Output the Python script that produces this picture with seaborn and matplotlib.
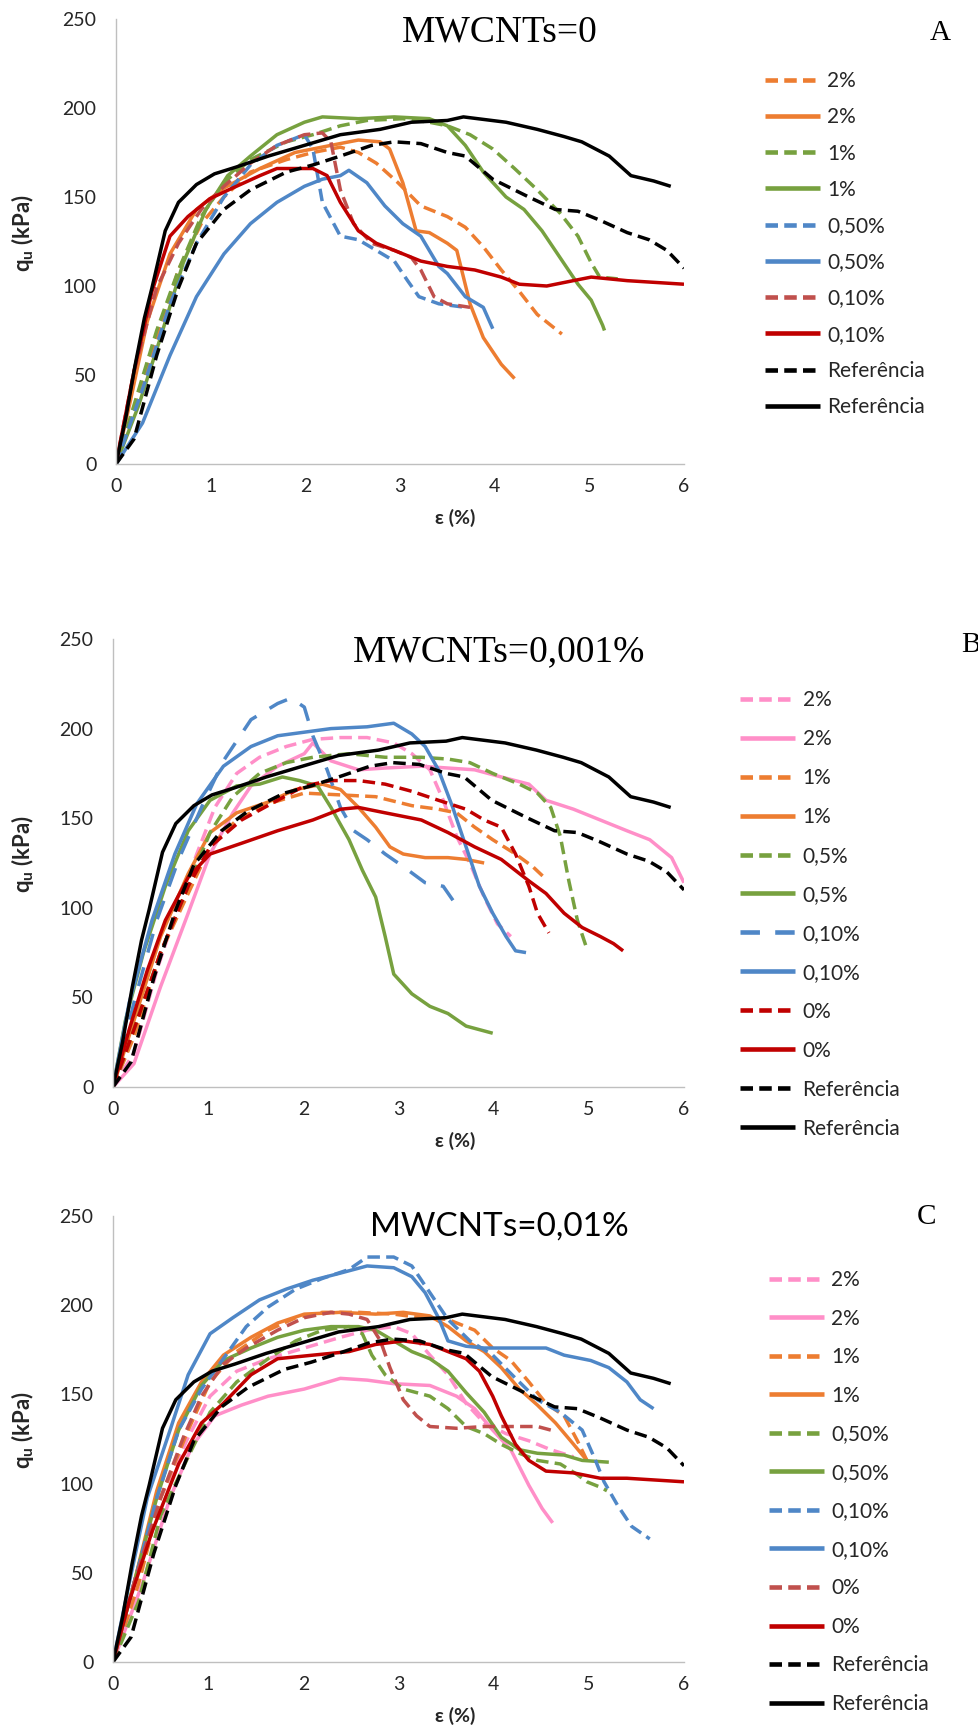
import matplotlib
matplotlib.use("Agg")
import matplotlib.pyplot as plt
import seaborn as sns
import numpy as np

sns.set_theme(style="white")
plt.rcParams['font.family'] = ['Lato', 'DejaVu Sans']
plt.rcParams['mathtext.fontset'] = 'custom'
plt.rcParams['mathtext.rm'] = 'Lato'
plt.rcParams['mathtext.bf'] = 'Lato:bold'
plt.rcParams['lines.scale_dashes'] = False

# ---------------- data ----------------
# Reference curves (same in all three panels)
ref_solid_x = [0, 0.1, 0.2, 0.3, 0.38, 0.52, 0.66, 0.85, 1.04, 1.28, 1.61, 1.99, 2.37, 2.79, 3.12, 3.5, 3.67, 4.12, 4.45, 4.73, 4.92, 5.21, 5.44, 5.68, 5.86]
ref_solid_y = [0, 25, 55, 82, 99, 131, 147, 157, 163, 167, 173, 179, 185, 188, 192, 193, 195, 192, 188, 184, 181, 173, 162, 159, 156]
ref_dash_x = [0, 0.19, 0.43, 0.66, 0.85, 1.14, 1.42, 1.8, 2.08, 2.37, 2.7, 2.94, 3.22, 3.5, 3.69, 3.98, 4.36, 4.64, 4.88, 5.11, 5.4, 5.63, 5.82, 6.0]
ref_dash_y = [0, 14, 61, 99, 124, 143, 154, 164, 168, 173, 179, 181, 180, 175, 173, 160, 150, 143, 142, 137, 130, 126, 120, 110]

# Panel A  (MWCNTs=0)
a_2d_x = [0, 0.19, 0.43, 0.66, 0.9, 1.14, 1.42, 1.8, 2.08, 2.37, 2.56, 2.75, 2.98, 3.22, 3.5, 3.69, 3.88, 4.07, 4.26, 4.45, 4.71]
a_2d_y = [0, 28, 71, 109, 135, 150, 164, 171, 175, 178, 175, 169, 158, 145, 139, 133, 122, 109, 97, 84, 73]
a_2s_x = [0, 0.15, 0.33, 0.57, 0.85, 1.14, 1.52, 1.89, 2.27, 2.56, 2.79, 2.89, 3.03, 3.17, 3.31, 3.5, 3.6, 3.74, 3.88, 4.07, 4.21]
a_2s_y = [0, 35, 80, 118, 143, 155, 166, 175, 179, 182, 181, 177, 158, 131, 130, 124, 120, 90, 71, 56, 48]
a_1d_x = [0, 0.19, 0.43, 0.66, 0.9, 1.14, 1.42, 1.8, 2.08, 2.37, 2.65, 3.03, 3.31, 3.5, 3.74, 3.98, 4.21, 4.45, 4.69, 4.88, 5.02, 5.11, 5.3]
a_1d_y = [0, 33, 75, 109, 139, 158, 171, 181, 185, 190, 193, 194, 192, 190, 185, 177, 166, 154, 141, 128, 113, 105, 104]
a_1s_x = [0, 0.24, 0.47, 0.71, 0.95, 1.18, 1.42, 1.7, 1.99, 2.18, 2.56, 2.94, 3.31, 3.5, 3.69, 3.88, 4.12, 4.31, 4.5, 4.69, 4.88, 5.02, 5.14, 5.16]
a_1s_y = [0, 33, 71, 113, 143, 162, 173, 185, 192, 195, 194, 195, 194, 190, 179, 164, 150, 143, 131, 116, 101, 92, 78, 75]
a_05d_x = [0, 0.28, 0.57, 0.85, 1.14, 1.42, 1.7, 1.99, 2.08, 2.18, 2.37, 2.56, 2.75, 2.94, 3.08, 3.2, 3.41, 3.69]
a_05d_y = [0, 42, 90, 124, 150, 168, 179, 185, 177, 147, 128, 126, 120, 114, 103, 94, 90, 88]
a_05s_x = [0, 0.28, 0.57, 0.85, 1.14, 1.42, 1.7, 1.99, 2.18, 2.37, 2.46, 2.65, 2.84, 3.03, 3.22, 3.41, 3.5, 3.69, 3.88, 3.98]
a_05s_y = [0, 23, 61, 94, 118, 135, 147, 156, 160, 162, 165, 158, 145, 135, 128, 111, 107, 94, 88, 76]
a_01d_x = [0, 0.19, 0.43, 0.66, 0.9, 1.14, 1.42, 1.7, 1.99, 2.18, 2.27, 2.37, 2.51, 2.7, 2.94, 3.12, 3.22, 3.36, 3.5, 3.74]
a_01d_y = [0, 52, 99, 124, 143, 156, 169, 179, 185, 186, 181, 154, 135, 124, 120, 116, 109, 94, 90, 88]
a_01s_x = [0, 0.19, 0.38, 0.57, 0.76, 0.99, 1.23, 1.52, 1.7, 2.08, 2.23, 2.37, 2.56, 2.75, 2.94, 3.22, 3.5, 3.79, 4.07, 4.26, 4.55, 4.83, 5.02, 5.4, 6.0]
a_01s_y = [0, 52, 97, 128, 139, 149, 155, 162, 166, 166, 162, 147, 131, 124, 120, 114, 111, 109, 105, 101, 100, 103, 105, 103, 101]

# Panel B  (MWCNTs=0,001%)
b_2d_x = [0, 0.22, 0.46, 0.69, 0.88, 1.07, 1.3, 1.54, 1.82, 2.1, 2.39, 2.67, 2.95, 3.14, 3.33, 3.47, 3.61, 3.75, 3.9, 4.04, 4.18]
b_2d_y = [0, 19, 65, 102, 130, 156, 175, 184, 190, 194, 195, 195, 192, 186, 177, 160, 140, 125, 106, 91, 84]
b_2s_x = [0, 0.22, 0.5, 0.79, 1.02, 1.26, 1.45, 1.73, 2.01, 2.1, 2.29, 2.58, 2.86, 3.24, 3.52, 3.8, 4.08, 4.37, 4.55, 4.84, 5.12, 5.4, 5.64, 5.87, 6.0]
b_2s_y = [0, 13, 56, 97, 130, 153, 168, 179, 186, 192, 182, 177, 178, 179, 178, 177, 173, 169, 160, 155, 149, 143, 138, 128, 114]
b_1d_x = [0, 0.22, 0.5, 0.79, 1.02, 1.3, 1.63, 2.01, 2.39, 2.76, 3.14, 3.42, 3.61, 3.8, 3.99, 4.23, 4.41, 4.53]
b_1d_y = [0, 28, 75, 108, 134, 149, 158, 164, 163, 162, 157, 155, 153, 145, 138, 130, 123, 117]
b_1s_x = [0, 0.22, 0.5, 0.79, 1.02, 1.3, 1.63, 1.92, 2.2, 2.39, 2.58, 2.76, 2.91, 3.05, 3.28, 3.52, 3.71, 3.9]
b_1s_y = [0, 37, 84, 119, 142, 153, 159, 166, 169, 166, 156, 145, 134, 130, 128, 128, 127, 125]
b_05d_x = [0, 0.22, 0.5, 0.79, 1.02, 1.26, 1.54, 1.82, 2.1, 2.48, 2.86, 3.24, 3.52, 3.75, 3.99, 4.27, 4.46, 4.6, 4.7, 4.79, 4.88, 4.98]
b_05d_y = [0, 32, 75, 112, 142, 162, 175, 181, 184, 186, 184, 184, 183, 181, 175, 169, 164, 156, 140, 115, 93, 77]
b_05s_x = [0, 0.13, 0.32, 0.55, 0.79, 1.02, 1.3, 1.54, 1.78, 1.96, 2.15, 2.29, 2.48, 2.62, 2.76, 2.86, 2.95, 3.14, 3.33, 3.52, 3.71, 3.85, 3.99]
b_05s_y = [0, 37, 75, 112, 143, 160, 168, 169, 173, 171, 168, 156, 138, 121, 106, 84, 63, 52, 45, 41, 34, 32, 30]
b_01d_x = [0, 0.22, 0.46, 0.69, 0.93, 1.16, 1.45, 1.73, 1.87, 2.01, 2.1, 2.25, 2.39, 2.53, 2.67, 2.86, 3.05, 3.28, 3.47, 3.64]
b_01d_y = [0, 47, 93, 127, 156, 182, 205, 214, 217, 212, 196, 177, 156, 143, 138, 130, 123, 114, 112, 99]
b_01s_x = [0, 0.17, 0.41, 0.65, 0.88, 1.16, 1.45, 1.73, 2.01, 2.29, 2.67, 2.95, 3.14, 3.28, 3.42, 3.57, 3.71, 3.85, 3.99, 4.13, 4.23, 4.34]
b_01s_y = [0, 47, 93, 130, 158, 179, 190, 196, 198, 200, 201, 203, 197, 190, 177, 156, 134, 112, 97, 84, 76, 75]
b_0d_x = [0, 0.22, 0.5, 0.79, 1.02, 1.35, 1.73, 2.01, 2.29, 2.58, 2.86, 3.14, 3.42, 3.71, 3.9, 4.08, 4.23, 4.37, 4.46, 4.58]
b_0d_y = [0, 32, 75, 112, 134, 149, 160, 168, 171, 171, 169, 165, 160, 155, 149, 145, 130, 112, 97, 86]
b_0s_x = [0, 0.17, 0.36, 0.55, 0.79, 1.02, 1.35, 1.73, 2.1, 2.39, 2.58, 2.86, 3.24, 3.52, 3.8, 4.08, 4.37, 4.55, 4.74, 4.93, 5.12, 5.26, 5.36]
b_0s_y = [0, 32, 65, 93, 117, 130, 136, 143, 149, 155, 156, 153, 149, 142, 134, 127, 115, 108, 97, 89, 84, 80, 76]

# Panel C  (MWCNTs=0,01%)
c_2d_x = [0, 0.22, 0.5, 0.79, 1.02, 1.3, 1.63, 2.01, 2.39, 2.67, 2.95, 3.14, 3.33, 3.52, 3.71, 3.9, 4.13, 4.37, 4.6, 4.84]
c_2d_y = [0, 44, 92, 126, 149, 163, 170, 176, 182, 186, 188, 184, 172, 161, 145, 134, 128, 124, 119, 115]
c_2s_x = [0, 0.31, 0.6, 0.83, 1.07, 1.35, 1.63, 2.01, 2.39, 2.67, 2.95, 3.33, 3.61, 3.8, 3.99, 4.18, 4.37, 4.51, 4.62]
c_2s_y = [0, 44, 92, 121, 138, 144, 149, 153, 159, 158, 156, 155, 149, 142, 130, 119, 99, 86, 78]
c_1d_x = [0, 0.27, 0.5, 0.79, 1.02, 1.3, 1.63, 1.92, 2.2, 2.58, 2.95, 3.24, 3.52, 3.8, 3.99, 4.18, 4.37, 4.55, 4.74, 4.88, 4.98]
c_1d_y = [0, 44, 92, 130, 157, 174, 186, 193, 196, 196, 195, 193, 192, 186, 176, 169, 157, 145, 138, 124, 113]
c_1s_x = [0, 0.22, 0.46, 0.69, 0.93, 1.16, 1.45, 1.73, 2.01, 2.39, 2.76, 3.05, 3.33, 3.52, 3.71, 3.9, 4.08, 4.27, 4.46, 4.65, 4.84, 4.98]
c_1s_y = [0, 44, 96, 134, 157, 172, 182, 190, 195, 196, 195, 196, 194, 188, 180, 174, 165, 153, 144, 134, 122, 113]
c_05d_x = [0, 0.27, 0.5, 0.79, 1.02, 1.3, 1.63, 1.92, 2.2, 2.48, 2.62, 2.72, 2.86, 3.05, 3.33, 3.52, 3.71, 3.9, 4.08, 4.27, 4.46, 4.7, 4.88, 4.98, 5.12, 5.19]
c_05d_y = [0, 34, 82, 115, 140, 157, 170, 180, 186, 188, 184, 172, 161, 153, 149, 142, 132, 128, 122, 117, 113, 111, 105, 101, 98, 96]
c_05s_x = [0, 0.22, 0.46, 0.69, 0.93, 1.16, 1.45, 1.73, 2.01, 2.29, 2.58, 2.76, 2.95, 3.14, 3.33, 3.52, 3.71, 3.9, 4.08, 4.27, 4.46, 4.74, 4.93, 5.21]
c_05s_y = [0, 44, 92, 130, 155, 169, 176, 182, 186, 188, 188, 186, 180, 174, 170, 163, 151, 140, 126, 119, 117, 116, 113, 112]
c_01d_x = [0, 0.22, 0.46, 0.69, 0.93, 1.16, 1.4, 1.63, 1.92, 2.2, 2.48, 2.67, 2.95, 3.14, 3.33, 3.52, 3.75, 3.99, 4.23, 4.46, 4.7, 4.93, 5.07, 5.16, 5.3, 5.45, 5.64]
c_01d_y = [0, 44, 92, 130, 153, 170, 188, 199, 209, 215, 220, 227, 227, 222, 207, 192, 180, 172, 159, 147, 140, 130, 113, 101, 88, 76, 69]
c_01s_x = [0, 0.17, 0.36, 0.6, 0.79, 1.02, 1.26, 1.54, 1.82, 2.1, 2.39, 2.67, 2.95, 3.14, 3.28, 3.42, 3.52, 3.71, 3.9, 4.23, 4.55, 4.74, 5.02, 5.21, 5.4, 5.54, 5.68]
c_01s_y = [0, 44, 92, 130, 161, 184, 193, 203, 209, 214, 218, 222, 221, 216, 207, 193, 180, 177, 176, 176, 176, 172, 169, 165, 157, 147, 142]
c_0d_x = [0, 0.22, 0.5, 0.74, 0.93, 1.16, 1.4, 1.73, 2.01, 2.29, 2.48, 2.67, 2.81, 2.91, 3.05, 3.19, 3.33, 3.61, 3.9, 4.18, 4.46, 4.6]
c_0d_y = [0, 44, 92, 126, 149, 167, 176, 186, 193, 196, 195, 192, 180, 165, 147, 138, 132, 131, 132, 132, 132, 130]
c_0s_x = [0, 0.17, 0.41, 0.69, 0.93, 1.16, 1.45, 1.73, 2.1, 2.48, 2.76, 3.05, 3.33, 3.52, 3.71, 3.85, 3.99, 4.08, 4.23, 4.37, 4.55, 4.84, 5.12, 5.4, 6.0]
c_0s_y = [0, 34, 73, 111, 134, 145, 161, 170, 172, 174, 178, 180, 178, 174, 170, 163, 149, 138, 122, 113, 107, 106, 103, 103, 101]

x_ticks = [0, 1, 2, 3, 4, 5, 6]
y_ticks = [0, 50, 100, 150, 200, 250]

# ---------------- styles ----------------
ORANGE = '#ED7D31'
GREEN = '#77A13F'
BLUE = '#4F87C7'
DUSTY = '#C0504D'
RED = '#C00000'
PINK = '#FF8FC8'
BLACK = '#000000'
DASH = (0, (9, 4.5))
LONGDASH = (0, (14, 11))

panels = [
    dict(rect=[116, 19, 684, 464], title='MWCNTs=0', title_font='serif', title_xy=(500, 32),
         letter='A', letter_xy=(940, 33), letter_ha='center',
         leg_xy=(765, 71), leg_spacing=0.78,
         series=[
             (a_2d_x, a_2d_y, ORANGE, DASH, '2%'), (a_2s_x, a_2s_y, ORANGE, None, '2%'),
             (a_1d_x, a_1d_y, GREEN, DASH, '1%'), (a_1s_x, a_1s_y, GREEN, None, '1%'),
             (a_05d_x, a_05d_y, BLUE, DASH, '0,50%'), (a_05s_x, a_05s_y, BLUE, None, '0,50%'),
             (a_01d_x, a_01d_y, DUSTY, DASH, '0,10%'), (a_01s_x, a_01s_y, RED, None, '0,10%'),
             (ref_dash_x, ref_dash_y, BLACK, DASH, 'Referência'), (ref_solid_x, ref_solid_y, BLACK, None, 'Referência'),
         ]),
    dict(rect=[113, 639, 684, 1087], title='MWCNTs=0,001%', title_font='serif', title_xy=(499, 652),
         letter='B', letter_xy=(961, 645), letter_ha='left',
         leg_xy=(740, 690), leg_spacing=0.91,
         series=[
             (b_2d_x, b_2d_y, PINK, DASH, '2%'), (b_2s_x, b_2s_y, PINK, None, '2%'),
             (b_1d_x, b_1d_y, ORANGE, DASH, '1%'), (b_1s_x, b_1s_y, ORANGE, None, '1%'),
             (b_05d_x, b_05d_y, GREEN, DASH, '0,5%'), (b_05s_x, b_05s_y, GREEN, None, '0,5%'),
             (b_01d_x, b_01d_y, BLUE, LONGDASH, '0,10%'), (b_01s_x, b_01s_y, BLUE, None, '0,10%'),
             (b_0d_x, b_0d_y, RED, DASH, '0%'), (b_0s_x, b_0s_y, RED, None, '0%'),
             (ref_dash_x, ref_dash_y, BLACK, DASH, 'Referência'), (ref_solid_x, ref_solid_y, BLACK, None, 'Referência'),
         ]),
    dict(rect=[113, 1216, 684, 1662], title='MWCNTs=0,01%', title_font='sans', title_xy=(499, 1227),
         letter='C', letter_xy=(927, 1217), letter_ha='center',
         leg_xy=(769, 1270), leg_spacing=0.89,
         series=[
             (c_2d_x, c_2d_y, PINK, DASH, '2%'), (c_2s_x, c_2s_y, PINK, None, '2%'),
             (c_1d_x, c_1d_y, ORANGE, DASH, '1%'), (c_1s_x, c_1s_y, ORANGE, None, '1%'),
             (c_05d_x, c_05d_y, GREEN, DASH, '0,50%'), (c_05s_x, c_05s_y, GREEN, None, '0,50%'),
             (c_01d_x, c_01d_y, BLUE, DASH, '0,10%'), (c_01s_x, c_01s_y, BLUE, None, '0,10%'),
             (c_0d_x, c_0d_y, DUSTY, DASH, '0%'), (c_0s_x, c_0s_y, RED, None, '0%'),
             (ref_dash_x, ref_dash_y, BLACK, DASH, 'Referência'), (ref_solid_x, ref_solid_y, BLACK, None, 'Referência'),
         ]),
]

W, H = 979, 1726
fig = plt.figure(figsize=(W / 100, H / 100), dpi=100)
fig.patch.set_facecolor('white')

for p in panels:
    l, t, r, b = p['rect']
    ax = fig.add_axes([l / W, 1 - b / H, (r - l) / W, (b - t) / H])
    ax.set_facecolor('white')
    for xs, ys, col, ls, lab in p['series']:
        sns.lineplot(x=xs, y=ys, ax=ax, color=col, linewidth=2.5, label=lab,
                     estimator=None, sort=False)
        ln = ax.lines[-1]
        if ls is not None:
            ln.set_linestyle(ls)
        ln.set_solid_capstyle('butt')
        ln.set_dash_capstyle('butt')
        ln.set_solid_joinstyle('round')
    ax.set_xlim(0, 6)
    ax.set_ylim(0, 250)
    ax.set_xticks(x_ticks)
    ax.set_yticks(y_ticks)
    ax.grid(False)
    for s in ['top', 'right']:
        ax.spines[s].set_visible(False)
    for s in ['left', 'bottom']:
        ax.spines[s].set_color('#BFBFBF')
        ax.spines[s].set_linewidth(1.0)
    ax.tick_params(axis='both', length=0, labelsize=14, colors='#262626')
    ax.tick_params(axis='y', pad=14)
    ax.tick_params(axis='x', pad=10)
    ax.set_xlabel('ε (%)', fontsize=14, fontweight='bold', color='#262626')
    ax.set_ylabel(r'q$_\mathbf{u}$ (kPa)', fontsize=16, fontweight='bold', color='#262626')
    ax.xaxis.set_label_coords((455 - l) / (r - l), -54 / (b - t))
    ax.xaxis.label.set_va('center')
    ax.yaxis.set_label_coords((22 - l) / (r - l), 0.52)
    ax.yaxis.label.set_va('center')

    handles, labels = ax.get_legend_handles_labels()
    lx, ly = p['leg_xy']
    leg = ax.legend(handles, labels, loc='upper left', bbox_to_anchor=(lx / W, 1 - ly / H),
                    bbox_transform=fig.transFigure, frameon=False, fontsize=15,
                    handlelength=2.64, handletextpad=0.36, labelspacing=p['leg_spacing'],
                    borderpad=0, borderaxespad=0)
    for t_ in leg.get_texts():
        t_.set_color('#262626')
    for hl in leg.get_lines():
        hl.set_linewidth(3.3)

    tx, ty = p['title_xy']
    if p['title_font'] == 'serif':
        fig.text(tx / W, 1 - ty / H, p['title'], ha='center', va='center',
                 fontsize=27, family=['Liberation Serif', 'DejaVu Serif'], color='black')
    else:
        fig.text(tx / W, 1 - ty / H, p['title'], ha='center', va='center',
                 fontsize=24, family=['Lato', 'DejaVu Sans'], color='black')
    lx2, ly2 = p['letter_xy']
    fig.text(lx2 / W, 1 - ly2 / H, p['letter'], ha=p['letter_ha'], va='center',
             fontsize=21, family=['Liberation Serif', 'DejaVu Serif'], color='black')

fig.savefig('out.png', dpi=100, facecolor='white')
